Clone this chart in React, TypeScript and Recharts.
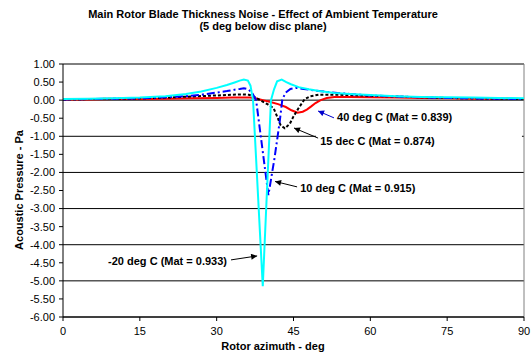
import { LineChart, Line, XAxis, YAxis, CartesianGrid, ReferenceLine } from "recharts"

const FONT = '"Liberation Sans", Arial, sans-serif'

const W = 531
const H = 352
const MARGIN = { top: 64, right: 7, bottom: 5, left: 0 }
const Y_AXIS_W = 63
const X_AXIS_H = 30

const xTicks = [0, 15, 30, 45, 60, 75, 90]
const yTicks = [1, 0.5, 0, -0.5, -1, -1.5, -2, -2.5, -3, -3.5, -4, -4.5, -5, -5.5, -6]

// -20 deg C (Mat = 0.933)
const azCold = [0, 5, 10, 15, 20, 24, 27, 30, 32, 33.5, 34.5, 35.3, 36.1, 36.6, 37.1, 39.0, 40.6, 41.2, 41.8, 42.7, 43.6, 44.5, 46, 48, 50, 53, 56, 60, 65, 70, 75, 80, 85, 90]
const pCold = [0.03, 0.04, 0.05, 0.07, 0.11, 0.17, 0.24, 0.34, 0.42, 0.49, 0.54, 0.57, 0.54, 0.4, 0.0, -5.15, 0.0, 0.3, 0.52, 0.57, 0.5, 0.44, 0.36, 0.3, 0.25, 0.2, 0.17, 0.14, 0.11, 0.09, 0.08, 0.07, 0.06, 0.05]

// 10 deg C (Mat = 0.915)
const az10 = [0, 5, 10, 15, 20, 24, 27, 30, 32, 33.5, 34.5, 35.3, 36.2, 37.0, 37.7, 40.1, 41.3, 42.3, 42.8, 43.4, 44.4, 45.5, 47, 49, 52, 56, 60, 65, 70, 75, 80, 85, 90]
const p10 = [0.02, 0.03, 0.04, 0.05, 0.08, 0.11, 0.15, 0.21, 0.25, 0.29, 0.31, 0.33, 0.3, 0.18, 0.0, -2.63, -1.6, -0.6, 0.0, 0.2, 0.31, 0.34, 0.31, 0.27, 0.22, 0.17, 0.13, 0.1, 0.08, 0.06, 0.05, 0.04, 0.03]

// 15 deg C (Mat = 0.874)
const az15 = [0, 5, 10, 15, 20, 25, 30, 33, 35, 36.3, 37.2, 38.5, 40, 41.1, 41.8, 42.5, 43.3, 44.3, 45, 46, 47.2, 48.3, 50, 53, 56, 60, 65, 70, 75, 80, 85, 90]
const p15 = [0.02, 0.03, 0.04, 0.05, 0.07, 0.1, 0.13, 0.15, 0.16, 0.15, 0.1, 0.0, -0.12, -0.22, -0.45, -0.7, -0.78, -0.65, -0.45, -0.22, 0.03, 0.11, 0.15, 0.15, 0.14, 0.12, 0.1, 0.08, 0.06, 0.05, 0.04, 0.03]

// 40 deg C (Mat = 0.839)
const az40 = [0, 5, 10, 15, 20, 25, 30, 33, 35, 36.5, 37.6, 39, 40.5, 42, 43.5, 44.6, 45.8, 46.8, 47.6, 48.4, 49.3, 50.3, 51.5, 53, 56, 60, 65, 70, 75, 80, 85, 90]
const p40 = [0.02, 0.02, 0.03, 0.03, 0.04, 0.05, 0.06, 0.07, 0.07, 0.07, 0.05, 0.0, -0.05, -0.11, -0.19, -0.28, -0.35, -0.32, -0.26, -0.18, -0.08, 0.0, 0.06, 0.09, 0.09, 0.08, 0.07, 0.06, 0.05, 0.04, 0.04, 0.03]

const toPoints = (az: number[], p: number[]) => az.map((a, i) => ({ az: a, p: p[i] }))

const series = [
  { key: "40", data: toPoints(az40, p40), color: "#FF0000", dash: undefined },
  { key: "15", data: toPoints(az15, p15), color: "#000000", dash: "3 2" },
  { key: "10", data: toPoints(az10, p10), color: "#0000FF", dash: "8 3 2 3" },
  { key: "-20", data: toPoints(azCold, pCold), color: "#00FFFF", dash: undefined },
]

// annotation placement, in data units
const plotL = MARGIN.left + Y_AXIS_W
const plotR = W - MARGIN.right
const plotT = MARGIN.top
const plotB = H - MARGIN.bottom - X_AXIS_H
const sx = (d: number) => plotL + (d / 90) * (plotR - plotL)
const sy = (v: number) => plotT + ((1 - v) / 7) * (plotB - plotT)

const notes = [
  { text: "40 deg C (Mat = 0.839)", at: [53.5, -0.47], from: [52.9, -0.49], to: [49.8, -0.3], box: [52.3, 79.5, -0.22, -0.77], color: "#0000CC" },
  { text: "15 dec C (Mat = 0.874)", at: [50.2, -1.13], from: [49.8, -1.05], to: [45.1, -0.77], box: [49.4, 89.6, -0.77, -1.7], color: "#000000" },
  { text: "10 deg C (Mat = 0.915)", at: [46.3, -2.43], from: [45.7, -2.4], to: [41.4, -2.25], box: [40.8, 73.8, -2.24, -2.74], color: "#000000" },
  { text: "-20 deg C (Mat = 0.933)", at: [8.8, -4.45], from: [32.8, -4.42], to: [37.9, -4.31], box: [8.2, 36.9, -4.23, -4.73], color: "#000000" },
]

function Overlay() {
  return (
    <svg width={W} height={H} style={{ position: "absolute", left: 0, top: 0, pointerEvents: "none" }}>
      <defs>
        {notes.map((n, i) => (
          <marker key={i} id={`ah${i}`} viewBox="0 0 10 10" refX="10" refY="5" markerWidth="7" markerHeight="6" markerUnits="userSpaceOnUse" orient="auto">
            <path d="M0,0 L10,5 L0,10 z" fill={n.color} />
          </marker>
        ))}
      </defs>
      {notes.map((n, i) => (
        <rect key={`b${i}`} x={sx(n.box[0])} y={sy(n.box[2])} width={Math.min(sx(n.box[1]), plotR - 2) - sx(n.box[0])} height={sy(n.box[3]) - sy(n.box[2])} fill="#fff" />
      ))}
      {notes.map((n, i) => (
        <g key={`n${i}`}>
          <line x1={sx(n.from[0])} y1={sy(n.from[1])} x2={sx(n.to[0])} y2={sy(n.to[1])} stroke={n.color} strokeWidth={1} markerEnd={`url(#ah${i})`} />
          <text x={sx(n.at[0])} y={sy(n.at[1])} dominantBaseline="central" fontFamily={FONT} fontSize={11} fontWeight="bold" fill="#000">
            {n.text}
          </text>
        </g>
      ))}
      <text x={263} y={18} textAnchor="middle" fontFamily={FONT} fontSize={11} fontWeight="bold" fill="#000">
        Main Rotor Blade Thickness Noise - Effect of Ambient Temperature
      </text>
      <text x={263} y={30} textAnchor="middle" fontFamily={FONT} fontSize={11} fontWeight="bold" fill="#000">
        (5 deg below disc plane)
      </text>
      <text x={273} y={350} textAnchor="middle" fontFamily={FONT} fontSize={11} fontWeight="bold" fill="#000">
        Rotor azimuth - deg
      </text>
      <text transform="translate(23,190) rotate(-90)" textAnchor="middle" fontFamily={FONT} fontSize={11} fontWeight="bold" fill="#000">
        Acoustic Pressure - Pa
      </text>
    </svg>
  )
}

export default function App() {
  return (
    <div style={{ position: "absolute", left: 0, top: 0, width: W, height: H, background: "#fff" }}>
      <LineChart width={W} height={H} margin={MARGIN}>
        <CartesianGrid vertical={false} stroke="#000" strokeWidth={1} />
        <XAxis
          dataKey="az"
          type="number"
          domain={[0, 90]}
          ticks={xTicks}
          height={X_AXIS_H}
          allowDuplicatedCategory={false}
          tickSize={4}
          tickMargin={6}
          axisLine={{ stroke: "#000" }}
          tickLine={{ stroke: "#000" }}
          tick={{ fill: "#000", fontSize: 11, fontFamily: FONT }}
        />
        <YAxis
          type="number"
          domain={[-6, 1]}
          ticks={yTicks}
          width={Y_AXIS_W}
          tickSize={4}
          tickMargin={4}
          tickFormatter={(v: number) => v.toFixed(2)}
          axisLine={{ stroke: "#000" }}
          tickLine={{ stroke: "#000" }}
          tick={{ fill: "#000", fontSize: 11, fontFamily: FONT }}
        />
        <ReferenceLine x={90} stroke="#808080" />
        {series.map((s) => (
          <Line
            key={s.key}
            data={s.data}
            dataKey="p"
            type="linear"
            stroke={s.color}
            strokeWidth={2}
            strokeDasharray={s.dash}
            dot={false}
            activeDot={false}
            isAnimationActive={false}
          />
        ))}
      </LineChart>
      <Overlay />
    </div>
  )
}
